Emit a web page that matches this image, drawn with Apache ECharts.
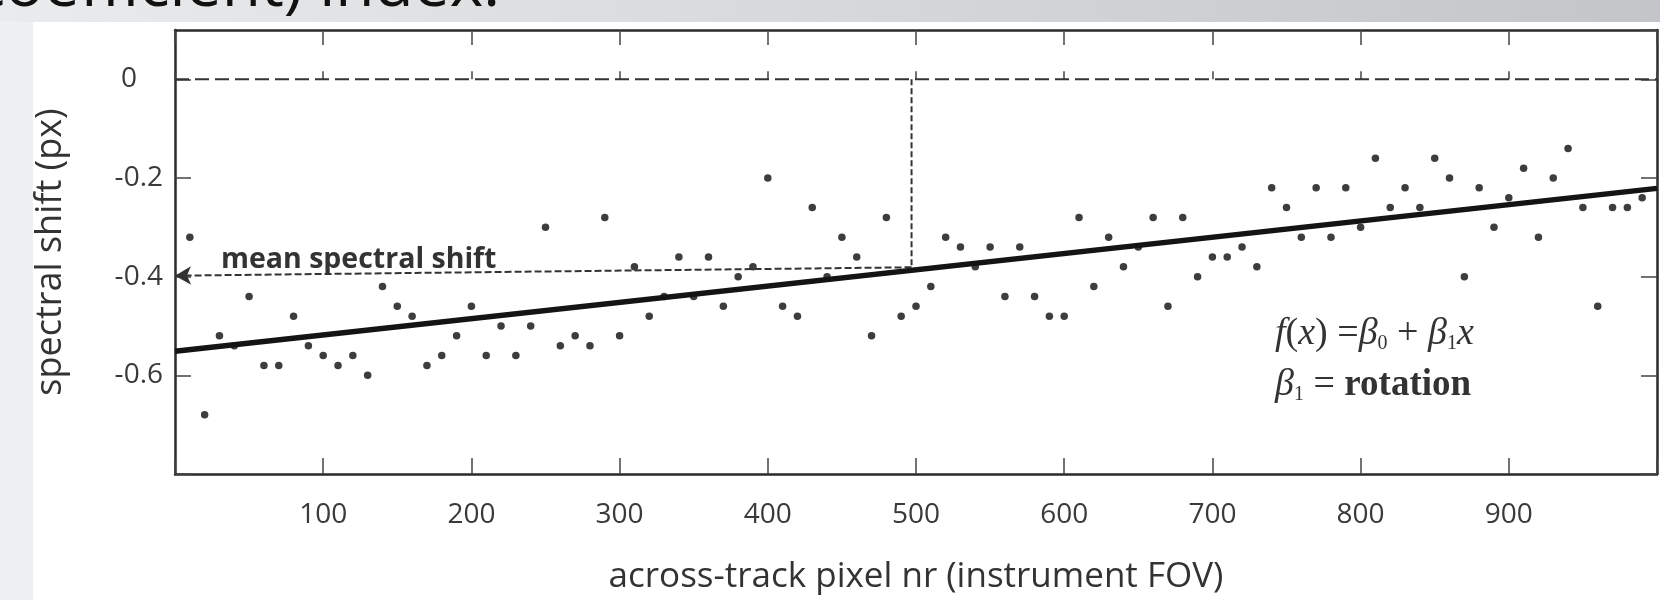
<!DOCTYPE html>
<html>
<head>
<meta charset="utf-8">
<script src="https://cdn.jsdelivr.net/npm/echarts@6/dist/echarts.min.js"></script>
<style>
  html, body { margin: 0; padding: 0; background: #ffffff; }
  #chart { width: 1660px; height: 600px; }
</style>
</head>
<body>
<div id="chart"></div>
<script>
// ---- data ----
const pixelNr = [10,20,30,40,50,60,70,80,90,100,110,120,130,140,150,160,170,180,190,200,
  210,220,230,240,250,260,270,280,290,300,310,320,330,340,350,360,370,380,390,400,
  410,420,430,440,450,460,470,480,490,500,510,520,530,540,550,560,570,580,590,600,
  610,620,630,640,650,660,670,680,690,700,710,720,730,740,750,760,770,780,790,800,
  810,820,830,840,850,860,870,880,890,900,910,920,930,940,950,960,970,980,990];
const spectralShift = [-0.32,-0.68,-0.52,-0.54,-0.44,-0.58,-0.58,-0.48,-0.54,-0.56,-0.58,-0.56,-0.60,-0.42,-0.46,-0.48,-0.58,-0.56,-0.52,-0.46,
  -0.56,-0.50,-0.56,-0.50,-0.30,-0.54,-0.52,-0.54,-0.28,-0.52,-0.38,-0.48,-0.44,-0.36,-0.44,-0.36,-0.46,-0.40,-0.38,-0.20,
  -0.46,-0.48,-0.26,-0.40,-0.32,-0.36,-0.52,-0.28,-0.48,-0.46,-0.42,-0.32,-0.34,-0.38,-0.34,-0.44,-0.34,-0.44,-0.48,-0.48,
  -0.28,-0.42,-0.32,-0.38,-0.34,-0.28,-0.46,-0.28,-0.40,-0.36,-0.36,-0.34,-0.38,-0.22,-0.26,-0.32,-0.22,-0.32,-0.22,-0.30,
  -0.16,-0.26,-0.22,-0.26,-0.16,-0.20,-0.40,-0.22,-0.30,-0.24,-0.18,-0.32,-0.20,-0.14,-0.26,-0.46,-0.26,-0.26,-0.24];
const fitX = [0, 1000];
const fitY = [-0.551, -0.221];
const meanPixel = 497;
const fitAtMean = -0.386;
const arrowStart = -0.381;   // mean-shift arrow at the mean pixel
const arrowEnd = -0.398;     // mean-shift arrow at the left axis
const xTicks = [100,200,300,400,500,600,700,800,900];
const yTicks = [0,-0.2,-0.4,-0.6];

const scatterData = pixelNr.map((x, i) => [x, spectralShift[i]]);
const fitData = fitX.map((x, i) => [x, fitY[i]]);

const chart = echarts.init(document.getElementById('chart'), null, { renderer: 'canvas' });

const axisCol = '#2a2a2a';
const labelFont = { fontFamily: 'Open Sans', fontSize: 28, color: '#3a3a3a' };

const option = {
  animation: false,
  backgroundColor: '#ffffff',
  grid: { left: 175, top: 30, width: 1493, height: 450, containLabel: false },
  xAxis: [
    {
      type: 'value', position: 'bottom', min: 0, max: 1000, interval: 100,
      axisLine: { show: true, onZero: false, lineStyle: { color: axisCol, width: 2.5 } },
      axisTick: { show: true, inside: true, length: 16, lineStyle: { color: '#444', width: 1.5 } },
      splitLine: { show: false },
      axisLabel: Object.assign({ margin: 27,
        formatter: v => (xTicks.indexOf(v) >= 0 ? String(v) : '') }, labelFont),
      name: 'across-track pixel nr (instrument FOV)',
      nameLocation: 'middle', nameGap: 86,
      nameTextStyle: { fontFamily: 'Open Sans', fontSize: 35, color: '#333' }
    },
    {
      type: 'value', position: 'top', min: 0, max: 1000, interval: 100,
      axisLine: { show: true, onZero: false, lineStyle: { color: axisCol, width: 2.5 } },
      axisTick: { show: true, inside: true, length: 15, lineStyle: { color: '#444', width: 1.5 } },
      axisLabel: { show: false }, splitLine: { show: false }
    },
    {
      type: 'value', position: 'top', min: 0, max: 1000, interval: 100,
      axisLine: { show: false },
      axisTick: { show: true, inside: false, length: 8, lineStyle: { color: '#444', width: 1.5 } },
      axisLabel: { show: false }, splitLine: { show: false }
    }
  ],
  yAxis: [
    {
      type: 'value', position: 'left', min: -0.8, max: 0.1, interval: 0.2,
      axisLine: { show: true, onZero: false, lineStyle: { color: axisCol, width: 2.5 } },
      axisTick: { show: true, inside: true, length: 16, lineStyle: { color: '#444', width: 1.5 } },
      splitLine: { show: false },
      axisLabel: Object.assign({ margin: 12, showMaxLabel: false,
        formatter: v => {
          const r = Math.round(v * 10) / 10;
          if (!yTicks.some(t => Math.abs(t - r) < 1e-9)) return '';
          return r === 0 ? '{z|0}' : r.toFixed(1);
        },
        rich: { z: { fontFamily: 'Open Sans', fontSize: 28, color: '#3a3a3a', padding: [0, 26, 0, 0] } }
      }, labelFont),
      name: 'spectral shift (px)',
      nameLocation: 'middle', nameGap: 106,
      nameTextStyle: { fontFamily: 'Open Sans', fontSize: 36, color: '#333' }
    },
    {
      type: 'value', position: 'right', min: -0.8, max: 0.1, interval: 0.2,
      axisLine: { show: true, onZero: false, lineStyle: { color: axisCol, width: 2.5 } },
      axisTick: { show: true, inside: true, length: 16, lineStyle: { color: '#444', width: 1.5 } },
      axisLabel: { show: false }, splitLine: { show: false }
    }
  ],
  series: [
    {
      name: 'zero', type: 'line', xAxisIndex: 0, yAxisIndex: 0,
      data: [[0, 0], [1000, 0]], symbol: 'none', silent: true, z: 2,
      lineStyle: { color: '#333', width: 2, type: [14, 6] }
    },
    {
      name: 'mean', type: 'line', xAxisIndex: 0, yAxisIndex: 0,
      data: [[meanPixel, 0], [meanPixel, fitAtMean]], symbol: 'none', silent: true, z: 2,
      lineStyle: { color: '#333', width: 2, type: [6, 3] },
      markLine: {
        silent: true, animation: false, label: { show: false },
        lineStyle: { color: '#333', width: 2, type: [7, 3] },
        symbolSize: [14, 16],
        data: [[
          { coord: [meanPixel, arrowStart], symbol: 'none' },
          { coord: [0, arrowEnd], symbol: 'arrow' }
        ]]
      }
    },
    {
      name: 'data', type: 'scatter', xAxisIndex: 0, yAxisIndex: 0,
      data: scatterData, symbol: 'circle', symbolSize: 7.5, z: 3,
      itemStyle: { color: '#0d0d0d' }
    },
    {
      name: 'fit', type: 'line', xAxisIndex: 0, yAxisIndex: 0,
      data: fitData, symbol: 'none', z: 4,
      lineStyle: { color: '#141414', width: 5.5 }
    }
  ],
  graphic: [
    // left light strip
    { type: 'rect', left: 0, top: 0, shape: { width: 33, height: 600 }, style: { fill: '#eef0f2' }, z: -10 },
    // top gradient band
    { type: 'rect', left: 0, top: 0, shape: { width: 1660, height: 22 },
      style: { fill: new echarts.graphic.LinearGradient(0, 0, 1, 0, [
        { offset: 0, color: '#eaebec' }, { offset: 1, color: '#c4c5c8' }]) }, z: -9 },
    // cut-off slide title
    { type: 'text', right: 1660 - 500, top: -44,
      style: { text: 'coefficient) index.', fontFamily: 'Open Sans', fontSize: 64, fill: '#111', textAlign: 'right' }, z: -8 },
    // annotation text
    { type: 'text', left: 221, top: 245,
      style: { text: 'mean spectral shift', fontFamily: 'Open Sans', fontWeight: 'bold', fontSize: 28.5, fill: '#333' } },
    { type: 'text', left: 1275, top: 315,
      style: {
        text: '{i|f}{n|(}{i|x}{n|) =}{i|β}{s|0}{n| + }{i|β}{s|1}{i|x}',
        rich: {
          i: { fontFamily: 'Liberation Serif', fontStyle: 'italic', fontSize: 38, fill: '#333' },
          n: { fontFamily: 'Liberation Serif', fontSize: 38, fill: '#333' },
          s: { fontFamily: 'Liberation Serif', fontSize: 20, fill: '#333', padding: [19, 0, 0, 0] }
        }
      } },
    { type: 'text', left: 1275, top: 366,
      style: {
        text: '{i|β}{s|1}{n| = }{b|rotation}',
        rich: {
          i: { fontFamily: 'Liberation Serif', fontStyle: 'italic', fontSize: 38, fill: '#333' },
          n: { fontFamily: 'Liberation Serif', fontSize: 38, fill: '#333' },
          b: { fontFamily: 'Liberation Serif', fontWeight: 'bold', fontSize: 37, fill: '#333' },
          s: { fontFamily: 'Liberation Serif', fontSize: 20, fill: '#333', padding: [19, 0, 0, 0] }
        }
      } }
  ]
};

chart.setOption(option);
</script>
</body>
</html>
